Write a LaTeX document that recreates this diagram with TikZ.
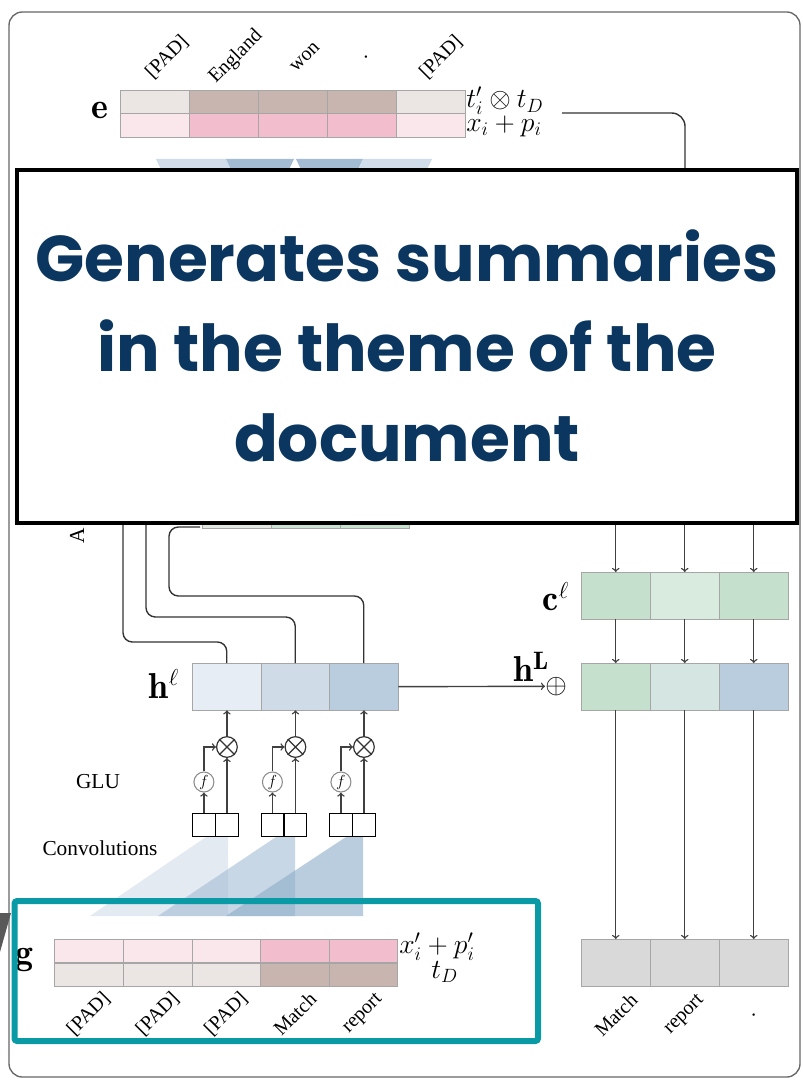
\documentclass[tikz,border=0pt]{standalone}
\usepackage{fontspec}
\usepackage{amsmath}
\newfontfamily\popfont{Poppins}
\newfontfamily\wordfont{Liberation Serif}
\definecolor{padtop}{HTML}{EBE5E3}
\definecolor{toktop}{HTML}{C9B5AF}
\definecolor{padbot}{HTML}{FAE7EC}
\definecolor{tokbot}{HTML}{F2BECD}
\definecolor{hlone}{HTML}{E7EDF4}
\definecolor{hltwo}{HTML}{CFDCE8}
\definecolor{hlthree}{HTML}{B9CDDE}
\definecolor{cgreen}{HTML}{C5E0CD}
\definecolor{clight}{HTML}{D9EADF}
\definecolor{hLmid}{HTML}{D5E5E2}
\definecolor{outgray}{HTML}{D9D9D9}
\definecolor{convA}{HTML}{D0DCE9}
\definecolor{convB}{HTML}{A3BCD3}
\definecolor{convC}{HTML}{8AACC8}
\definecolor{navy}{HTML}{0B365F}
\definecolor{boxteal}{HTML}{0A9AA6}

\begin{document}
\begin{tikzpicture}[x=0.75pt,y=-0.75pt,
	cell/.style={draw=black!35, line width=0.6pt, inner sep=0pt, anchor=north west, minimum width=51.5pt, minimum height=17.6pt},
	bigcell/.style={cell, minimum height=34.9pt},
	gbox/.style={draw, line width=1pt, inner sep=0pt, anchor=north west, minimum width=16.9pt, minimum height=17.2pt},
	word/.style={font=\wordfont\fontsize{15}{17}\selectfont, rotate=45},
	mlab/.style={font=\fontsize{20.5}{22}\selectfont, inner sep=0pt, anchor=west},
	blab/.style={font=\fontsize{27}{30}\selectfont},
	fcirc/.style={circle, draw=black!45, line width=0.8pt, inner sep=0pt, minimum size=15pt, font=\fontsize{13}{14}\selectfont},
	mcirc/.style={circle, draw=black!80, line width=0.9pt, inner sep=0pt, minimum size=15.5pt},
	arr/.style={->, >=to, line width=1.05pt, black!75},
	wire/.style={black!80, line width=1.05pt, rounded corners=7pt}]
	\useasboundingbox (0,0) rectangle (802,1080);
	%frame
	\draw[black!60, line width=1pt, rounded corners=10pt] (9,12) rectangle (800,1077);
	%e rows
	\foreach \i/\ct/\cb/\x in {1/padtop/padbot/120, 2/toktop/tokbot/189, 3/toktop/tokbot/258, 4/toktop/tokbot/327, 5/padtop/padbot/396} {
		\node[cell, fill=\ct] (et\i) at (\x,90) {};
		\node[cell, fill=\cb] (eb\i) at (\x,113.5) {};
	}
	\foreach \i/\x/\w in {1/167/[PAD], 2/236/England, 3/305/won, 4/366/., 5/441/[PAD]}
		\node[word] (ew\i) at (\x,57) {\w};
	\node[blab] (elab) at (100,110) {$\mathbf{e}$};
	\node[mlab] (tlab) at (466,101) {$t'_i \otimes t_D$};
	\node[mlab] (xlab) at (466,126) {$x_i + p_i$};
	\coordinate (eout) at (562,113);
	\coordinate (edown) at (685,200);
	\draw[wire, rounded corners=10pt] (eout) -| (edown);
	%kernels below e
	\fill[convA] (156,159) -- (226,159) -- (234,176) -- (164,176) -- cycle;
	\fill[convB] (226,159) -- (294,159) -- (286,176) -- (234,176) -- cycle;
	\fill[convB] (296,159) -- (363,159) -- (355,176) -- (304,176) -- cycle;
	\fill[convA] (363,159) -- (432,159) -- (424,176) -- (355,176) -- cycle;
	%cells under the title
	\foreach \i/\c/\x in {1/padtop!40!clight/202, 2/cgreen!80!clight/271, 3/cgreen/340}
		\node[bigcell, fill=\c] (a\i) at (\x,481) {};
	\node[font=\wordfont\fontsize{16}{18}\selectfont, rotate=90] (alab) at (77,536) {A};
	%h^l and wires
	\foreach \i/\c/\x in {1/hlone/192, 2/hltwo/260.5, 3/hlthree/329}
		\node[bigcell, fill=\c] (hl\i) at (\x,663) {};
	\node[blab] (hlab) at (164,684) {$\mathbf{h}^\ell$};
	\coordinate (w1) at (123,470);
	\coordinate (w2) at (146,470);
	\coordinate (w3) at (200,527);
	\draw[wire] (hl1.north) |- (123,642) -- (w1);
	\draw[wire] (hl2.north) |- (146,617) -- (w2);
	\draw[wire] (hl3.north) |- (169,596) -- (169,527) -- (w3);
	%GLU
	\foreach \k/\x/\h in {0/192/1, 1/260.5/2, 2/329/3} {
		\node[gbox] (bl\k) at (\x,813) {};
		\node[gbox] (br\k) at (\x+23,813) {};
		\node[fcirc] (f\k) at (bl\k.north |- 0,782) {$f$};
		\node[mcirc] (m\k) at (br\k.north |- 0,747) {};
		\draw[black!80, line width=0.9pt] (m\k.north west) -- (m\k.south east) (m\k.north east) -- (m\k.south west);
		\draw[arr] (bl\k.north) -- (f\k.south);
		\draw[arr] (f\k.north) |- (m\k.west);
		\draw[arr] (br\k.north) -- (m\k.south);
		\draw[arr] (m\k.north) -- (m\k.north |- hl\h.south);
	}
	\node[font=\wordfont\fontsize{16}{18}\selectfont] (glu) at (98,782) {GLU};
	\node[font=\wordfont\fontsize{16}{18}\selectfont] (conv) at (100,848) {Convolutions};
	%convolutions
	\fill[convA, fill opacity=0.6] (90,916) -- (206,837) -- (228,837) -- (228,916) -- cycle;
	\fill[convB, fill opacity=0.6] (158,916) -- (276,837) -- (295,837) -- (295,916) -- cycle;
	\fill[convC, fill opacity=0.6] (226,916) -- (346,837) -- (363,837) -- (363,916) -- cycle;
	%g rows
	\foreach \i/\ct/\cb/\x in {1/padbot/padtop/54, 2/padbot/padtop/123, 3/padbot/padtop/191.5, 4/tokbot/toktop/260, 5/tokbot/toktop/328.5} {
		\node[cell, fill=\ct] (gt\i) at (\x,939) {};
		\node[cell, fill=\cb] (gb\i) at (\x,962.5) {};
	}
	\foreach \i/\w in {1/[PAD], 2/[PAD], 3/[PAD], 4/Match, 5/report}
		\node[word] (gw\i) at (gb\i.south |- 0,1014) {\w};
	\node[blab] (glab) at (24,960) {$\mathbf{g}$};
	\node[mlab] (xglab) at (399,947) {$x'_i + p'_i$};
	\node[mlab] (tglab) at (431,972) {$t_D$};
	%decoder column
	\foreach \i/\cc/\ch/\x in {1/cgreen/cgreen/581, 2/clight/hLmid/650, 3/cgreen/hlthree/719} {
		\node[bigcell, fill=\cc] (c\i) at (\x,572) {};
		\node[bigcell, fill=\ch] (hL\i) at (\x,663) {};
		\node[bigcell, fill=outgray] (o\i) at (\x,939) {};
		\coordinate (ctop\i) at (c\i.north |- 0,505);
		\draw[arr] (ctop\i) -- (c\i.north);
		\draw[arr] (c\i.south) -- (hL\i.north);
		\draw[arr] (hL\i.south) -- (o\i.north);
	}
	\foreach \i/\w in {1/Match, 2/report, 3/.}
		\node[word] (ow\i) at (o\i.south |- 0,1015) {\w};
	\node[blab] (clab) at (556,597) {$\mathbf{c}^\ell$};
	\node[font=\fontsize{20}{22}\selectfont, inner sep=0pt] (oplus) at (556,686.3) {$\oplus$};
	\node[blab, anchor=south] (hLlab) at (531,686) {$\mathbf{h}^{\mathbf{L}}$};
	\draw[arr] (hl3.east) -- (oplus.west);
	%title box
	\node[draw=black, line width=3pt, fill=white, minimum width=585pt, minimum height=264.5pt, inner sep=0pt] (title) at (407,346.5) {};
	\node[text=navy, align=center, font=\popfont\bfseries\fontsize{48.5}{67.5}\selectfont] (ttext) at (407,346) {Generates summaries\\in the theme of the\\document};
	%highlight
	\draw[boxteal, line width=4.5pt, rounded corners=2pt] (14.5,901) rectangle (538,1041);
	\fill[black!65] (0,913) -- (11,913) -- (0,952) -- cycle;
\end{tikzpicture}
\end{document}
